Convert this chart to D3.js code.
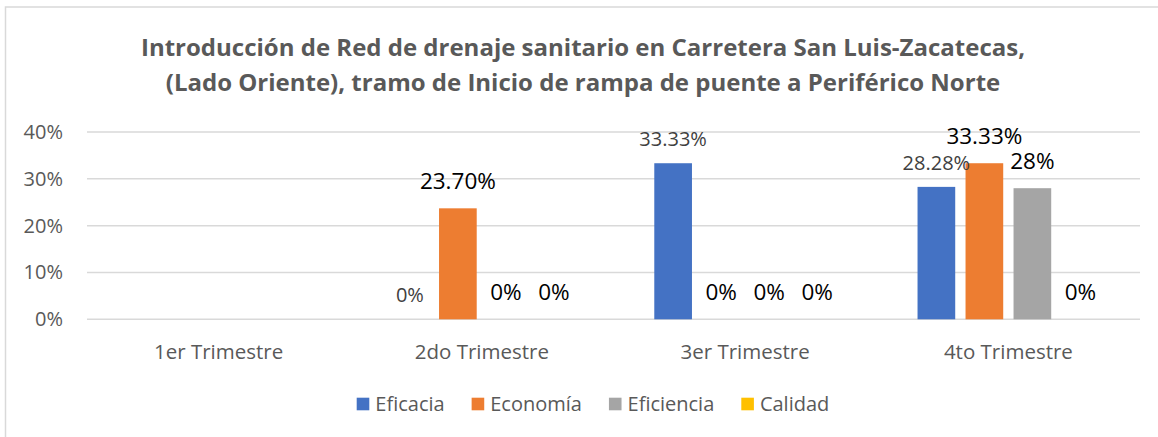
<!DOCTYPE html>
<html>
<head>
<meta charset="utf-8">
<script src="https://cdn.jsdelivr.net/npm/d3@7"></script>
<style>
  html, body { margin: 0; padding: 0; background: #fff; }
  svg { display: block; font-family: "Open Sans", sans-serif; }
</style>
</head>
<body>
<svg id="chart" width="1158" height="437"></svg>
<script>
const titleLines = [
  "Introducción de Red de drenaje sanitario en Carretera San Luis-Zacatecas,",
  "(Lado Oriente), tramo de Inicio de rampa de puente a Periférico Norte"
];
const categories = ["1er Trimestre", "2do Trimestre", "3er Trimestre", "4to Trimestre"];
const seriesNames = ["Eficacia", "Economía", "Eficiencia", "Calidad"];
const seriesColors = ["#4472C4", "#ED7D31", "#A5A5A5", "#FFC000"];
// values in percent; null = no data
const eficacia   = [null, 0, 33.33, 28.28];
const economia   = [null, 23.70, 0, 33.33];
const eficiencia = [null, 0, 0, 28];
const calidad    = [null, 0, 0, 0];
const eficaciaLabels   = [null, "0%", "33.33%", "28.28%"];
const economiaLabels   = [null, "23.70%", "0%", "33.33%"];
const eficienciaLabels = [null, "0%", "0%", "28%"];
const calidadLabels    = [null, "0%", "0%", "0%"];
const yTicks = [0, 10, 20, 30, 40];
const yTickLabels = ["0%", "10%", "20%", "30%", "40%"];

const seriesValues = [eficacia, economia, eficiencia, calidad];
const seriesLabels = [eficaciaLabels, economiaLabels, eficienciaLabels, calidadLabels];

const svg = d3.select("#chart");

// border
svg.append("rect")
  .attr("x", 5.5).attr("y", 7).attr("width", 1170).attr("height", 450)
  .attr("fill", "none").attr("stroke", "#d9d9d9").attr("stroke-width", 1.5);

// title
svg.append("g").selectAll("text").data(titleLines).join("text")
  .attr("x", 583).attr("y", (d, i) => 56 + i * 35)
  .attr("text-anchor", "middle")
  .attr("font-size", 24).attr("font-weight", "bold")
  .attr("fill", "#595959")
  .text(d => d);

const plot = { left: 87, right: 1140, top: 132, bottom: 319.3 };

const x0 = d3.scaleBand().domain(categories).range([plot.left, plot.right]).padding(0);
const groupHalf = 96;
const x1 = d3.scaleBand().domain(seriesNames).range([-groupHalf, groupHalf])
  .paddingInner(0.215).paddingOuter(0.1075);
const y = d3.scaleLinear().domain([0, 40]).range([plot.bottom, plot.top]);

// gridlines
svg.append("g").selectAll("line").data(yTicks).join("line")
  .attr("x1", plot.left).attr("x2", plot.right)
  .attr("y1", d => y(d)).attr("y2", d => y(d))
  .attr("stroke", "#d9d9d9").attr("stroke-width", 1.5);

// y axis labels
const yAxis = d3.axisLeft(y).tickValues(yTicks)
  .tickFormat((d, i) => yTickLabels[i]).tickSize(0).tickPadding(0);
const yg = svg.append("g").attr("transform", `translate(${plot.left - 24},0)`).call(yAxis);
yg.select(".domain").remove();
yg.selectAll("text").attr("font-size", 20).attr("fill", "#595959")
  .attr("font-family", "Open Sans, sans-serif");

// x axis labels
const xAxis = d3.axisBottom(x0).tickSize(0).tickPadding(0);
const xg = svg.append("g").attr("transform", `translate(0,${plot.bottom + 25})`).call(xAxis);
xg.select(".domain").remove();
xg.selectAll("text").attr("font-size", 20.5).attr("fill", "#595959")
  .attr("font-family", "Open Sans, sans-serif");

// bars
const rows = [];
categories.forEach((c, ci) => {
  seriesNames.forEach((s, si) => {
    const v = seriesValues[si][ci];
    if (v !== null) rows.push({ c, s, si, v, label: seriesLabels[si][ci] });
  });
});

const cx = c => x0(c) + x0.bandwidth() / 2;

svg.append("g").selectAll("rect").data(rows.filter(d => d.v > 0)).join("rect")
  .attr("x", d => cx(d.c) + x1(d.s))
  .attr("y", d => y(d.v))
  .attr("width", x1.bandwidth())
  .attr("height", d => y(0) - y(d.v))
  .attr("fill", d => seriesColors[d.si]);

// data labels
svg.append("g").selectAll("text").data(rows).join("text")
  .attr("x", d => cx(d.c) + x1(d.s) + x1.bandwidth() / 2)
  .attr("y", d => y(d.v) - (d.si === 0 ? 17 : 19))
  .attr("text-anchor", "middle")
  .attr("font-size", d => d.si === 0 ? 20 : 22.5)
  .attr("fill", d => d.si === 0 ? "#404040" : "#000000")
  .text(d => d.label);

// legend
const legend = svg.append("g");
const items = legend.selectAll("g").data(seriesNames).join("g");
items.append("rect").attr("width", 12.6).attr("height", 12.6)
  .attr("y", 397.7)
  .attr("fill", (d, i) => seriesColors[i]);
items.append("text").attr("x", 18.6).attr("y", 411)
  .attr("font-size", 20).attr("fill", "#595959").text(d => d);
let offs = [], acc = 0;
items.each(function(d, i) {
  const w = 18.6 + this.querySelector("text").getComputedTextLength();
  offs.push(acc);
  acc += w + 27;
});
const total = acc - 27;
const startX = 593 - total / 2;
items.attr("transform", (d, i) => `translate(${startX + offs[i]},0)`);
</script>
</body>
</html>
